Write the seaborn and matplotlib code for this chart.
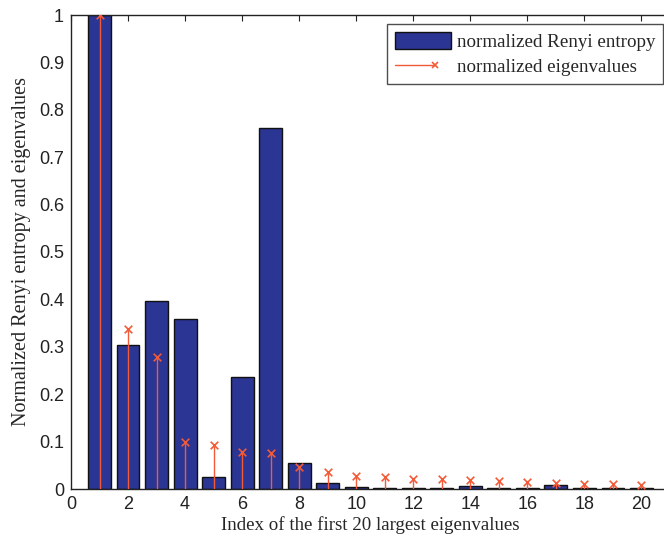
import numpy as np
import pandas as pd
import matplotlib
matplotlib.use("Agg")
import matplotlib.pyplot as plt
import seaborn as sns
from matplotlib.lines import Line2D
from matplotlib.patches import Patch
from matplotlib.legend_handler import HandlerLine2D

index = list(range(1, 21))
renyi = [1.0, 0.304, 0.397, 0.359, 0.026, 0.236, 0.762, 0.055, 0.012, 0.0035,
         0.003, 0.003, 0.003, 0.006, 0.003, 0.003, 0.008, 0.003, 0.003, 0.003]
eigen = [1.0, 0.337, 0.278, 0.099, 0.093, 0.079, 0.075, 0.046, 0.036, 0.027,
         0.025, 0.022, 0.021, 0.018, 0.017, 0.015, 0.013, 0.011, 0.010, 0.008]
xticks = [0, 2, 4, 6, 8, 10, 12, 14, 16, 18, 20]
yticks = [0, 0.1, 0.2, 0.3, 0.4, 0.5, 0.6, 0.7, 0.8, 0.9, 1]
ytick_labels = ["0", "0.1", "0.2", "0.3", "0.4", "0.5", "0.6", "0.7", "0.8", "0.9", "1"]

sns.set_style("white")
plt.rcParams['font.family'] = ['Liberation Sans', 'DejaVu Sans']

bar_color = "#2B3593"
stem_color = "#F25A38"


class EndMarkerHandler(HandlerLine2D):
    def get_xdata(self, legend, xdescent, ydescent, width, height, fontsize):
        xdata = np.array([-xdescent, -xdescent + width * 0.72])
        return xdata, np.array([xdata[1]])

    def create_artists(self, legend, orig_handle, xdescent, ydescent, width,
                       height, fontsize, trans):
        artists = super().create_artists(legend, orig_handle, xdescent, ydescent,
                                         width, height, fontsize, trans)
        for a in artists:
            n = len(a.get_xdata())
            a.set_markevery([n - 1])
        return artists


fig = plt.figure(figsize=(6.64, 5.39), dpi=100)
ax = fig.add_axes([71/664, 1 - 489/539, 599/664, 474/539])

df = pd.DataFrame({"index": index, "renyi": renyi, "eigen": eigen})
sns.barplot(data=df, x="index", y="renyi", native_scale=True, ax=ax,
            color=bar_color, saturation=1, width=0.8,
            edgecolor="#111111", linewidth=1.0)

ax.vlines(df["index"], 0, df["eigen"], color=stem_color, linewidth=1.0, zorder=3)
sns.scatterplot(data=df, x="index", y="eigen", ax=ax, marker="x", color=stem_color,
                s=30, linewidth=1.2, zorder=4)

ax.set_xlim(0, 21)
ax.set_ylim(0, 1)
ax.set_xticks(xticks)
ax.set_xticklabels([str(t) for t in xticks])
ax.set_yticks(yticks)
ax.set_yticklabels(ytick_labels)
ax.tick_params(direction="in", length=4, width=0.8, top=True, right=False,
               labelsize=13, colors="#222222", pad=5)

for s in ["top", "left", "bottom", "right"]:
    ax.spines[s].set_visible(True)
    ax.spines[s].set_color("#222222")
    ax.spines[s].set_linewidth(1.0)

ax.set_xlabel("Index of the first 20 largest eigenvalues",
              fontfamily="Liberation Serif", fontsize=13.6, labelpad=2)
ax.set_ylabel("Normalized Renyi entropy and eigenvalues",
              fontfamily="Liberation Serif", fontsize=14.5, labelpad=6)

patch_h = Patch(facecolor=bar_color, edgecolor="#111111", linewidth=1.0)
line_h = Line2D([0], [0], color=stem_color, linewidth=1.0, marker="x",
                markersize=5, markeredgewidth=1.2)
leg = ax.legend([patch_h, line_h], ["normalized Renyi entropy", "normalized eigenvalues"],
                loc="upper right", bbox_to_anchor=(0.988, 0.981),
                prop={"family": "Liberation Serif", "size": 13.7},
                frameon=True, fancybox=False, edgecolor="#222222",
                handlelength=2.95, handleheight=1.0, borderpad=0.4,
                labelspacing=0.35, handletextpad=0.3, borderaxespad=0.0,
                handler_map={Line2D: EndMarkerHandler(numpoints=1)})
leg.get_frame().set_linewidth(1.0)

fig.savefig("out.png", dpi=100)
